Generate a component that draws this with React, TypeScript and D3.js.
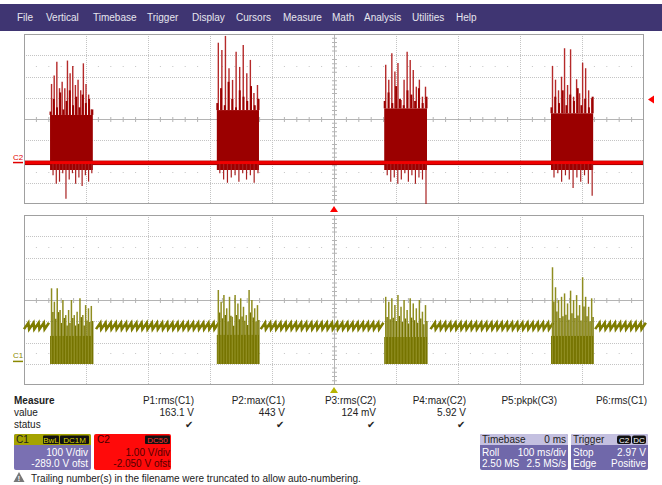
import React from 'react';
import * as d3 from 'd3';

// menu bar
const menuItems = ['File', 'Vertical', 'Timebase', 'Trigger', 'Display', 'Cursors', 'Measure', 'Math', 'Analysis', 'Utilities', 'Help'];
const menuX = [17, 46, 93, 147, 192, 236, 283, 332, 364, 412, 456];

// bursts (ms, trigger at 0)
const burstStart = [-458, -189, 81, 350];
const burstEnd = [-389, -121, 150, 418];

// C2 (V) - spike tops inside each burst
const c2Up = [
  [3.7, 4.1, 4.75, 3.5, 3.8, 3.5, 4.8, 4.2, 4.55, 3.65, 3.9, 3.4, 4.67, 3.7, 3.2, 2.5],
  [5.64, 5.3, 5.96, 4.44, 3.89, 5.22, 4.5, 5.53, 4.2, 4.83, 3.27, 3.65],
  [4.6, 3.9, 5.14, 4.28, 4.69, 2.95, 3.9, 5.22, 4.83, 4.36, 3.57, 3.9, 3.1, 3.57],
  [4.55, 3.9, 3.4, 4.04, 5.38, 3.65, 5.33, 3.1, 3.92, 3.26, 4.7, 4.44, 3.4, 3.03],
];
// jagged top of the dense part
const c2Mid = [
  [2.4, 3.0, 2.6, 3.3, 2.5, 2.9, 3.4, 2.7, 3.1, 2.6, 3.2, 2.8, 3.0, 2.5],
  [2.8, 3.5, 2.7, 3.8, 3.0, 2.6, 3.4, 3.1, 2.9, 3.6, 2.7, 3.0],
  [2.9, 3.3, 2.8, 3.6, 3.0, 2.7, 3.4, 3.2, 2.9, 3.5, 2.8, 3.1],
  [2.6, 3.1, 2.8, 3.4, 2.7, 3.2, 2.9, 3.5, 2.7, 3.0, 2.6, 3.1],
];
const c2Down = [
  [-0.6, -1.0, -0.9, -0.5, -1.7, -0.8, -0.5, -1.0, -0.7, -1.1, -0.6, -0.9, -0.5],
  [-0.5, -0.8, -0.95, -0.7, -0.6, -0.9, -0.5, -0.8, -0.6, -0.95, -0.5],
  [-0.6, -0.9, -0.7, -1.0, -0.8, -0.5, -0.9, -0.6, -1.0, -0.7, -0.8, -1.95],
  [-0.7, -0.5, -0.9, -0.6, -0.8, -1.2, -0.7, -0.9, -0.6, -1.0, -1.56],
];
const c2Body = [2.24, 2.47, 2.55, 2.32];

// C1 (V)
const c1Up = [
  [344, 281, 344, 242, 289, 218, 242, 289, 218, 234, 297, 218, 265, 250, 261],
  [336, 281, 312, 250, 304, 210, 312, 273, 297, 257, 218, 336, 289, 250, 265],
  [304, 281, 297, 265, 312, 257, 289, 242, 297, 273, 250, 289, 234, 265],
  [443, 349, 289, 304, 320, 273, 333, 289, 312, 265, 396, 304, 257, 297],
];
const c1Body = [120, 125, 115, 120];
const c1Floor = -12;
const c1Ripple = [152, 182]; // low, high of one sawtooth period
const ripplePeriod = 8.3; // ms

// measure table
const measNames = ['P1:rms(C1)', 'P2:max(C1)', 'P3:rms(C2)', 'P4:max(C2)', 'P5:pkpk(C3)', 'P6:rms(C1)'];
const measValues = ['163.1 V', '443 V', '124 mV', '5.92 V', '', ''];
const measRight = [194, 285, 376, 466, 557, 647];

const L = 24, R = 644;
const topY0 = 34, topY1 = 204, botY0 = 215, botY1 = 385;
const font = 'Liberation Sans, Arial, sans-serif';

const Panel = ({ y0, y1 }: { y0: number; y1: number }) => {
  const xs = d3.range(0, 11).map(i => L + (i * (R - L)) / 10);
  const ys = d3.range(0, 9).map(i => y0 + (i * (y1 - y0)) / 8);
  const cx = xs[5], cy = ys[4];
  const subX = d3.range(0, 51).map(i => L + (i * (R - L)) / 50);
  const subY = d3.range(0, 41).map(i => y0 + (i * (y1 - y0)) / 40);
  const dv = (y1 - y0) / 8;
  return (
    <g>
      <rect x={L} y={y0} width={R - L} height={y1 - y0} fill="#fff" />
      {xs.slice(1, 10).filter((_, i) => i !== 4).map((x, i) => (
        <line key={'v' + i} x1={x + 0.5} x2={x + 0.5} y1={y0} y2={y1} stroke="#c4c4c4" strokeDasharray="1,1" />
      ))}
      {ys.slice(1, 8).filter((_, i) => i !== 3).map((y, i) => (
        <line key={'h' + i} x1={L} x2={R} y1={Math.round(y) + 0.5} y2={Math.round(y) + 0.5} stroke="#c4c4c4" strokeDasharray="1,1" />
      ))}
      <line x1={cx + 0.5} x2={cx + 0.5} y1={y0} y2={y1} stroke="#b4b4b4" />
      <line x1={L} x2={R} y1={Math.round(cy) + 0.5} y2={Math.round(cy) + 0.5} stroke="#b4b4b4" />
      {subX.filter((_, i) => i % 5 !== 0).map((x, i) => (
        <g key={'sx' + i}>
          <line x1={x} x2={x} y1={cy - 2} y2={cy + 3} stroke="#b4b4b4" />
          <rect x={x - 0.5} y={Math.round(cy - 2.5 * dv)} width={1} height={1} fill="#c4c4c4" />
          <rect x={x - 0.5} y={Math.round(cy + 2.5 * dv)} width={1} height={1} fill="#c4c4c4" />
        </g>
      ))}
      {subY.filter((_, i) => i % 5 !== 0).map((y, i) => (
        <line key={'sy' + i} x1={cx - 2} x2={cx + 3} y1={y} y2={y} stroke="#b4b4b4" />
      ))}
      <rect x={L + 0.5} y={y0 + 0.5} width={R - L - 1} height={y1 - y0 - 1} fill="none" stroke="#a0a0a0" />
    </g>
  );
};

export default function App() {
  const x = d3.scaleLinear().domain([-500, 500]).range([L, R]);
  const yT = d3.scaleLinear().domain([2.05 - 4, 2.05 + 4]).range([topY1, topY0]);
  const yB = d3.scaleLinear().domain([289 - 400, 289 + 400]).range([botY1, botY0]);

  // C1 ripple path, skipping bursts
  const rippleSegs: [number, number][][] = [];
  let seg: [number, number][] = [];
  for (let t = -500; t <= 500; t += ripplePeriod) {
    const inBurst = burstStart.some((s, i) => t > s - 2 && t < burstEnd[i] + 1);
    if (inBurst) {
      if (seg.length) rippleSegs.push(seg);
      seg = [];
      continue;
    }
    seg.push([x(t), yB(c1Ripple[0])]);
    seg.push([x(t + ripplePeriod * 0.85), yB(c1Ripple[1])]);
  }
  if (seg.length) rippleSegs.push(seg);
  const line = d3.line();
  const c2Zero = yT(0);

  return (
    <svg width={662} height={485} style={{ position: 'absolute', left: 0, top: 0, fontFamily: font }}>
      <rect width={662} height={485} fill="#fff" />
      {/* menu bar */}
      <rect x={0} y={4} width={662} height={27} fill="#3f3572" />
      {menuItems.map((m, i) => (
        <text key={m} x={menuX[i]} y={21} fontSize={10} fill="#e6e6ee">{m}</text>
      ))}

      <Panel y0={topY0} y1={topY1} />
      <Panel y0={botY0} y1={botY1} />

      {/* C2 trace */}
      <g clipPath="url(#clipT)">
        <rect x={L + 1} y={c2Zero - 2} width={R - L - 2} height={4.5} fill="#a80000" />
        {burstStart.map((s, b) => {
          const x0 = x(s), x1 = x(burstEnd[b]);
          const up = d3.scalePoint<number>().domain(d3.range(c2Up[b].length)).range([x0 + 1.5, x1 - 1.5]);
          const mid = d3.scalePoint<number>().domain(d3.range(c2Mid[b].length)).range([x0 + 0.5, x1 - 0.5]);
          const dn = d3.scalePoint<number>().domain(d3.range(c2Down[b].length)).range([x0 + 3, x1 - 1]);
          return (
            <g key={'c2b' + b}>
              <rect x={x0} y={yT(c2Body[b])} width={x1 - x0} height={yT(-0.35) - yT(c2Body[b])} fill="#9b0000" />
              {c2Up[b].map((v, i) => (
                <line key={'u' + i} x1={up(i)} x2={up(i)} y1={yT(c2Body[b])} y2={yT(v)} stroke="#b52a2a" strokeWidth={1.4} />
              ))}
              {c2Mid[b].map((v, i) => (
                <line key={'m' + i} x1={mid(i)} x2={mid(i)} y1={yT(c2Body[b])} y2={yT(v)} stroke="#9b0000" strokeWidth={2} />
              ))}
              {c2Down[b].map((v, i) => (
                <line key={'d' + i} x1={dn(i)} x2={dn(i)} y1={c2Zero} y2={yT(v)} stroke="#a82020" strokeWidth={1.2} />
              ))}
            </g>
          );
        })}
        <rect x={L + 1} y={c2Zero - 1.5} width={R - L - 2} height={3} fill="#f00000" />
      </g>

      {/* C1 trace */}
      <g>
        {rippleSegs.map((s, i) => (
          <path key={'r' + i} d={line(s) || ''} fill="none" stroke="#7e7c00" strokeWidth={2.6} />
        ))}
        {burstStart.map((s, b) => {
          const x0 = x(s), x1 = x(burstEnd[b]);
          const up = d3.scalePoint<number>().domain(d3.range(c1Up[b].length)).range([x0 + 1.5, x1 - 1.5]);
          return (
            <g key={'c1b' + b}>
              <rect x={x0} y={yB(c1Body[b])} width={x1 - x0} height={yB(c1Floor) - yB(c1Body[b])} fill="#767400" />
              {c1Up[b].map((v, i) => (
                <g key={'u' + i}>
                  <line x1={up(i)} x2={up(i)} y1={yB(c1Floor)} y2={yB(v)} stroke="#8f8d20" strokeWidth={1.5} />
                  <line x1={(up(i) as number) + 1.4} x2={(up(i) as number) + 1.4} y1={yB(c1Floor)} y2={yB((v + c1Body[b]) / 2)} stroke="#767400" strokeWidth={1.4} />
                </g>
              ))}
            </g>
          );
        })}
      </g>

      {/* channel markers */}
      <text x={13} y={c2Zero - 3} fontSize={8} fill="#e00000">C2</text>
      <line x1={13} x2={23} y1={c2Zero} y2={c2Zero} stroke="#e00000" strokeWidth={1.5} />
      <text x={13} y={yB(0) - 3} fontSize={8} fill="#8a8800">C1</text>
      <line x1={13} x2={23} y1={yB(0)} y2={yB(0)} stroke="#8a8800" strokeWidth={1.5} />

      {/* trigger markers */}
      <path d={`M${x(0)},${topY1 + 2} l-4,6 h8 z`} fill="#ff0000" />
      <path d={`M${R + 4},${yT(2.97)} l6,-4 v8 z`} fill="#ff0000" />
      <path d={`M${x(0)},${botY1 + 2} l-4,6 h8 z`} fill="#b8b400" />

      {/* measure table */}
      <g fontSize={10} fill="#222">
        <text x={14} y={404} fontWeight="bold">Measure</text>
        <text x={14} y={416}>value</text>
        <text x={14} y={428}>status</text>
        {measNames.map((n, i) => (
          <g key={n}>
            <text x={measRight[i]} y={404} textAnchor="end">{n}</text>
            {measValues[i] && <text x={measRight[i]} y={416} textAnchor="end">{measValues[i]}</text>}
            {measValues[i] && <text x={measRight[i] - 5} y={428} textAnchor="middle" fontSize={10}>✔</text>}
          </g>
        ))}
      </g>

      {/* C1 box */}
      <rect x={14} y={434} width={77} height={36} rx={2} fill="#7a70b2" />
      <path d="M14,445 v-9 a2,2 0 0 1 2,-2 h73 a2,2 0 0 1 2,2 v9 z" fill="#a5a300" />
      <text x={16} y={443} fontSize={10} fill="#222">C1</text>
      <rect x={43} y={435.5} width={16} height={8.5} rx={1} fill="#111" />
      <text x={51} y={443} fontSize={8} fill="#d8d400" textAnchor="middle">BwL</text>
      <rect x={60} y={435.5} width={29} height={8.5} rx={1} fill="#111" />
      <text x={74.5} y={443} fontSize={8} fill="#d8d400" textAnchor="middle">DC1M</text>
      <text x={88} y={456} fontSize={10} fill="#fff" textAnchor="end">100 V/div</text>
      <text x={88} y={467} fontSize={10} fill="#fff" textAnchor="end">-289.0 V ofst</text>

      {/* C2 box */}
      <rect x={94} y={434} width={77} height={36} rx={2} fill="#ff0a0a" />
      <text x={97} y={443} fontSize={10} fill="#400">C2</text>
      <rect x={145} y={435.5} width={25} height={8.5} rx={1} fill="#111" />
      <text x={157.5} y={443} fontSize={8} fill="#ff3030" textAnchor="middle">DC50</text>
      <text x={170} y={456} fontSize={10} fill="#500" textAnchor="end">1.00 V/div</text>
      <text x={170} y={467} fontSize={10} fill="#500" textAnchor="end">-2.050 V ofst</text>

      {/* Timebase box */}
      <rect x={480} y={434} width={88} height={36} rx={2} fill="#7068aa" />
      <path d="M480,445 v-9 a2,2 0 0 1 2,-2 h84 a2,2 0 0 1 2,2 v9 z" fill="#c4c0e0" />
      <g fontSize={10}>
        <text x={482} y={443} fill="#222">Timebase</text>
        <text x={566} y={443} fill="#222" textAnchor="end">0 ms</text>
        <text x={482} y={456} fill="#fff">Roll</text>
        <text x={566} y={456} fill="#fff" textAnchor="end">100 ms/div</text>
        <text x={482} y={467} fill="#fff">2.50 MS</text>
        <text x={566} y={467} fill="#fff" textAnchor="end">2.5 MS/s</text>
      </g>

      {/* Trigger box */}
      <rect x={571} y={434} width={77} height={36} rx={2} fill="#7068aa" />
      <path d="M571,445 v-9 a2,2 0 0 1 2,-2 h73 a2,2 0 0 1 2,2 v9 z" fill="#c4c0e0" />
      <g fontSize={10}>
        <text x={573} y={443} fill="#222">Trigger</text>
        <rect x={617} y={435.5} width={14} height={8.5} rx={2} fill="#111" />
        <text x={624} y={443} fontSize={8} fill="#fff" textAnchor="middle">C2</text>
        <rect x={632} y={435.5} width={14} height={8.5} rx={2} fill="#111" />
        <text x={639} y={443} fontSize={8} fill="#fff" textAnchor="middle">DC</text>
        <text x={573} y={456} fill="#fff">Stop</text>
        <text x={646} y={456} fill="#fff" textAnchor="end">2.97 V</text>
        <text x={573} y={467} fill="#fff">Edge</text>
        <text x={646} y={467} fill="#fff" textAnchor="end">Positive</text>
      </g>

      {/* warning */}
      <path d="M19,472 l-5.5,10 h11 z" fill="#777" />
      <text x={19} y={481} fontSize={7} fontWeight="bold" fill="#fff" textAnchor="middle">!</text>
      <text x={31} y={482} fontSize={10} fill="#222">Trailing number(s) in the filename were truncated to allow auto-numbering.</text>

      <defs>
        <clipPath id="clipT">
          <rect x={L} y={topY0} width={R - L} height={topY1 - topY0} />
        </clipPath>
      </defs>
    </svg>
  );
}
